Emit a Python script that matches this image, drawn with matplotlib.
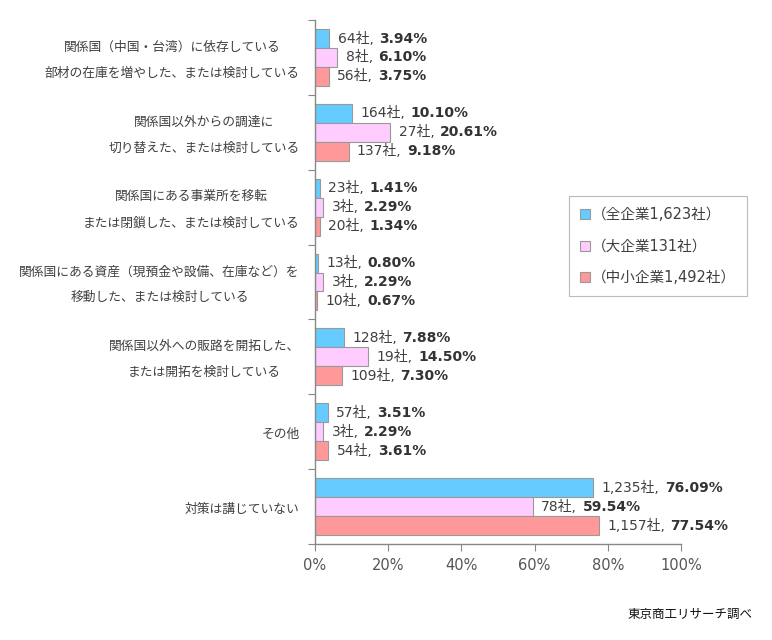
import matplotlib
matplotlib.use("Agg")
import matplotlib.pyplot as plt
from matplotlib.lines import Line2D
from matplotlib.offsetbox import TextArea, HPacker, AnnotationBbox

plt.rcParams['font.family'] = ['DejaVu Sans', 'Noto Sans CJK JP']

categories = [
    "関係国（中国・台湾）に依存している\n部材の在庫を増やした、または検討している",
    "関係国以外からの調達に\n切り替えた、または検討している",
    "関係国にある事業所を移転\nまたは閉鎖した、または検討している",
    "関係国にある資産（現預金や設備、在庫など）を\n移動した、または検討している",
    "関係国以外への販路を開拓した、\nまたは開拓を検討している",
    "その他",
    "対策は講じていない",
]
series_names = ["（全企業1,623社）", "（大企業131社）", "（中小企業1,492社）"]
all_counts = [64, 164, 23, 13, 128, 57, 1235]
all_pct = [3.94, 10.10, 1.41, 0.80, 7.88, 3.51, 76.09]
large_counts = [8, 27, 3, 3, 19, 3, 78]
large_pct = [6.10, 20.61, 2.29, 2.29, 14.50, 2.29, 59.54]
sme_counts = [56, 137, 20, 10, 109, 54, 1157]
sme_pct = [3.75, 9.18, 1.34, 0.67, 7.30, 3.61, 77.54]
x_ticks = [0, 20, 40, 60, 80, 100]
source_text = "東京商工リサーチ調べ"

colors = ["#66CCFF", "#FFCCFF", "#FF9999"]
edge = "#999999"
txt_color = "#404040"

fig = plt.figure(figsize=(7.72, 6.4), dpi=100)
ax = fig.add_axes([315/772, 1-544/640, (681-315)/772, (544-20)/640])

n = len(categories)
h = 0.253
offsets = [-h, 0, h]
series = [(all_counts, all_pct), (large_counts, large_pct), (sme_counts, sme_pct)]

for s, (counts, pcts) in enumerate(series):
    ys = [i + 0.5 + offsets[s] for i in range(n)]
    ax.barh(ys, pcts, height=h, color=colors[s], edgecolor=edge, linewidth=0.8, zorder=2)
    for y, c, p in zip(ys, counts, pcts):
        t1 = TextArea(f"{c:,}社,", textprops=dict(fontsize=10, color=txt_color))
        t2 = TextArea(f"{p:.2f}%", textprops=dict(fontsize=10, color="#333333", fontweight="bold"))
        box = HPacker(children=[t1, t2], align="baseline", pad=0, sep=4)
        ab = AnnotationBbox(box, (p, y), xybox=(6, 0), xycoords="data",
                            boxcoords="offset points", box_alignment=(0, 0.5),
                            frameon=False, pad=0, annotation_clip=False)
        ax.add_artist(ab)

# category labels (block right-aligned, lines centred)
for i, cat in enumerate(categories):
    ax.annotate(cat, (0, i + 0.5), xytext=(-11, -2), textcoords="offset points",
                ha="right", va="center", multialignment="center",
                fontsize=9.2, color=txt_color, linespacing=2.3,
                family=['Noto Sans CJK JP', 'DejaVu Sans'], annotation_clip=False)

ax.set_xlim(0, 100)
ax.set_ylim(n, 0)
ax.set_xticks(x_ticks)
ax.set_xticklabels([f"{t}%" for t in x_ticks], fontsize=10.5, color="#555555")
ax.set_yticks(range(n + 1))
ax.set_yticklabels([])
ax.tick_params(axis="x", direction="out", length=5, color="#888888", pad=5)
ax.tick_params(axis="y", direction="out", length=5, color="#888888")
for sp in ["top", "right"]:
    ax.spines[sp].set_visible(False)
for sp in ["left", "bottom"]:
    ax.spines[sp].set_color("#888888")
    ax.spines[sp].set_linewidth(1.0)

handles = [Line2D([], [], marker="s", linestyle="none", markersize=6.5,
                  markerfacecolor=c, markeredgecolor=edge, markeredgewidth=0.8) for c in colors]
leg = fig.legend(handles, series_names, loc="upper left", bbox_to_anchor=(569/772, 1-196/640),
                 frameon=True, fancybox=False, edgecolor="#aaaaaa",
                 labelspacing=1.15, handlelength=0.7, handletextpad=0.1,
                 borderpad=0.75, borderaxespad=0,
                 prop=dict(family=['DejaVu Sans', 'Noto Sans CJK JP'], size=10.5))
leg.get_frame().set_linewidth(0.8)
for t in leg.get_texts():
    t.set_color(txt_color)

fig.text(752/772, 1-614/640, source_text, ha="right", va="center", fontsize=9,
         color="#111111", family=['Noto Sans CJK JP', 'DejaVu Sans'])

fig.savefig("out.png", dpi=100, facecolor="white")
